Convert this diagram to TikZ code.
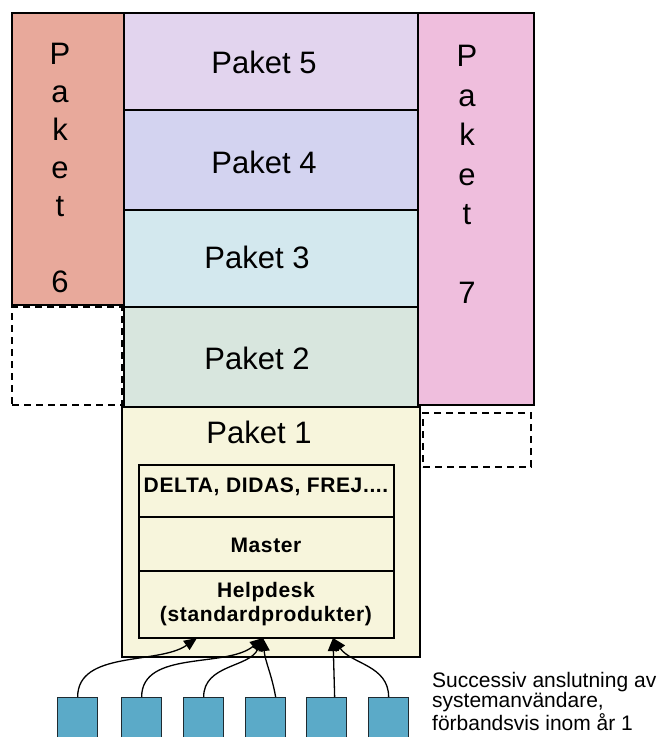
\documentclass[tikz,border=0pt]{standalone}
\usepackage{fontspec}
\setmainfont{Liberation Sans}
\usetikzlibrary{arrows.meta}
\definecolor{csix}{HTML}{E8A99B}
\definecolor{cfive}{HTML}{E2D4EE}
\definecolor{cfour}{HTML}{D3D3F0}
\definecolor{cthree}{HTML}{D3E8EE}
\definecolor{ctwo}{HTML}{D8E6DE}
\definecolor{cone}{HTML}{F7F5DC}
\definecolor{cseven}{HTML}{EFBEDD}
\definecolor{csq}{HTML}{5BAAC8}
\definecolor{csqline}{HTML}{1F2A30}
\begin{document}
\begin{tikzpicture}[x=1pt,y=-1pt,
  box/.style={draw=black, line width=1.2pt, inner sep=0pt, outer sep=0pt, anchor=north west},
  dashbox/.style={draw=black, line width=1.1pt, dash pattern=on 7pt off 5pt, inner sep=0pt, outer sep=0pt, anchor=north west},
  big/.style={font=\fontsize{31}{36}\selectfont, inner sep=0pt},
  vert/.style={font=\fontsize{31}{38}\selectfont, inner sep=0pt, align=center, anchor=north},
  small/.style={font=\fontsize{21}{23.5}\selectfont\bfseries\addfontfeatures{LetterSpace=3}, inner sep=0pt, align=center},
  sq/.style={draw=csqline, fill=csq, line width=1.3pt, minimum width=40pt, minimum height=40pt, inner sep=0pt, anchor=north west},
  conn/.style={line width=1.3pt, -{Triangle[length=13pt,width=11pt]}}
]
\useasboundingbox (0,0) rectangle (668,737);
% columns and stack
\node[box, fill=csix, minimum width=112pt, minimum height=292pt] (p6) at (12,13) {};
\node[box, fill=cseven, minimum width=116pt, minimum height=392pt] (p7) at (418,13) {};
\node[box, fill=cfive, minimum width=294pt, minimum height=97pt] (p5) at (124,13) {};
\node[box, fill=cfour, minimum width=294pt, minimum height=100pt] (p4) at (124,110) {};
\node[box, fill=cthree, minimum width=294pt, minimum height=97pt] (p3) at (124,210) {};
\node[box, fill=ctwo, minimum width=294pt, minimum height=100pt] (p2) at (124,307) {};
\node[dashbox, minimum width=110pt, minimum height=98pt] (d6) at (12,307) {};
\node[dashbox, minimum width=108pt, minimum height=54pt] (d7) at (423,413) {};
\node[box, fill=cone, minimum width=298pt, minimum height=250pt] (p1) at (122,407) {};
% inner rows
\node[box, minimum width=255pt, minimum height=52pt] (r1) at (139,465) {};
\node[box, minimum width=255pt, minimum height=54pt] (r2) at (139,517) {};
\node[box, minimum width=255pt, minimum height=67pt] (r3) at (139,571) {};
% labels
\node[big] (l5) at (264,62) {Paket 5};
\node[big] (l4) at (264,162) {Paket 4};
\node[big] (l3) at (257,257) {Paket 3};
\node[big] (l2) at (257,358) {Paket 2};
\node[big] (l1) at (259,432) {Paket 1};
\node[vert] (l6) at (60,43) {P\\a\\k\\e\\t\\\mbox{}\\6};
\node[vert, font=\fontsize{31}{39.5}\selectfont] (l7) at (467,45) {P\\a\\k\\e\\t\\\mbox{}\\7};
\node[small] (t1) at (266,487) {DELTA, DIDAS, FREJ....};
\node[small] (t2) at (266,545) {Master};
\node[small] (t3) at (266,604) {Helpdesk\\(standardprodukter)};
\node[font=\fontsize{21}{20.5}\selectfont, inner sep=0pt, align=left, anchor=north west] (note) at (432,672)
  {Successiv anslutning av\\systemanvändare,\\förbandsvis inom år 1};
% users
\node[sq] (s1) at (57,697) {};
\node[sq] (s2) at (121,697) {};
\node[sq] (s3) at (183,697) {};
\node[sq] (s4) at (245,697) {};
\node[sq] (s5) at (306,697) {};
\node[sq] (s6) at (368,697) {};
\coordinate (a1) at (197,638);
\coordinate (a2) at (263,638);
\coordinate (a3) at (333,638);
\draw[conn] (s1.north) to[out=90, in=-145, looseness=0.9] (a1);
\draw[conn] (s2.north) to[out=90, in=-140, looseness=0.9] (a2);
\draw[conn] (s3.north) to[out=90, in=-115] (a2);
\draw[conn] ([xshift=10pt]s4.north) to[out=100, in=-85] (a2);
\draw[conn] ([xshift=8pt]s5.north) -- (a3);
\draw[conn] (s6.north) to[out=90, in=-55] (a3);
\end{tikzpicture}
\end{document}
